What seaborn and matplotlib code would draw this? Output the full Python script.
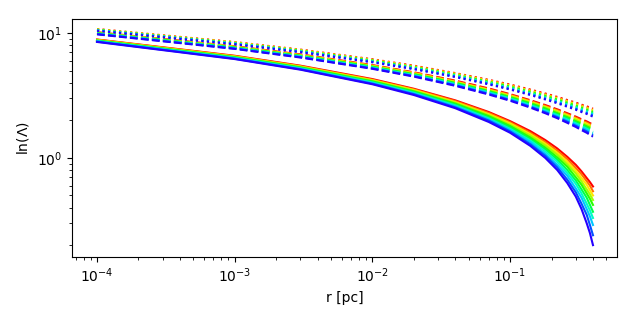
import numpy as np
import pandas as pd
import matplotlib
matplotlib.use('Agg')
import matplotlib.pyplot as plt
import seaborn as sns

# radius sample points [pc]
r_pc = [1e-4, 1e-3, 3e-3, 1e-2, 2e-2, 4e-2, 7e-2, 0.1, 0.14, 0.18,
        0.22, 0.26, 0.3, 0.33, 0.36, 0.38, 0.4]

# ln(Lambda), one row per colour (red -> blue)
solid_vals = [
    [8.88, 6.58, 5.48, 4.28, 3.58, 2.89, 2.33, 1.97, 1.64, 1.39, 1.19, 1.02, 0.88, 0.78, 0.69, 0.64, 0.59],
    [8.84, 6.54, 5.44, 4.23, 3.54, 2.85, 2.29, 1.93, 1.59, 1.34, 1.14, 0.98, 0.83, 0.74, 0.65, 0.60, 0.54],
    [8.80, 6.49, 5.39, 4.19, 3.50, 2.80, 2.24, 1.89, 1.55, 1.30, 1.10, 0.93, 0.79, 0.69, 0.61, 0.55, 0.50],
    [8.75, 6.45, 5.35, 4.15, 3.45, 2.76, 2.20, 1.84, 1.51, 1.26, 1.06, 0.89, 0.75, 0.65, 0.56, 0.51, 0.46],
    [8.71, 6.41, 5.31, 4.10, 3.41, 2.72, 2.16, 1.80, 1.46, 1.21, 1.01, 0.85, 0.70, 0.61, 0.52, 0.47, 0.42],
    [8.67, 6.36, 5.26, 4.06, 3.37, 2.67, 2.11, 1.76, 1.42, 1.17, 0.97, 0.80, 0.66, 0.56, 0.48, 0.42, 0.37],
    [8.62, 6.32, 5.22, 4.02, 3.32, 2.63, 2.07, 1.71, 1.38, 1.13, 0.93, 0.76, 0.62, 0.52, 0.43, 0.38, 0.33],
    [8.58, 6.28, 5.18, 3.97, 3.28, 2.59, 2.03, 1.67, 1.34, 1.08, 0.88, 0.72, 0.57, 0.48, 0.39, 0.34, 0.29],
    [8.54, 6.23, 5.13, 3.93, 3.24, 2.54, 1.99, 1.63, 1.29, 1.04, 0.84, 0.67, 0.53, 0.43, 0.35, 0.29, 0.24],
    [8.49, 6.19, 5.09, 3.89, 3.19, 2.50, 1.94, 1.59, 1.25, 1.00, 0.80, 0.63, 0.49, 0.39, 0.30, 0.25, 0.20],
]
dashed_vals = [
    [10.15, 7.84, 6.75, 5.54, 4.85, 4.16, 3.60, 3.24, 2.90, 2.65, 2.45, 2.28, 2.14, 2.04, 1.96, 1.90, 1.85],
    [10.11, 7.80, 6.70, 5.50, 4.81, 4.11, 3.55, 3.20, 2.86, 2.61, 2.41, 2.24, 2.10, 2.00, 1.92, 1.86, 1.81],
    [10.06, 7.76, 6.66, 5.46, 4.77, 4.07, 3.51, 3.16, 2.82, 2.57, 2.37, 2.20, 2.06, 1.96, 1.88, 1.82, 1.77],
    [10.02, 7.72, 6.62, 5.42, 4.72, 4.03, 3.47, 3.11, 2.78, 2.53, 2.33, 2.16, 2.02, 1.92, 1.83, 1.78, 1.73],
    [9.98, 7.68, 6.58, 5.38, 4.68, 3.99, 3.43, 3.07, 2.74, 2.49, 2.28, 2.12, 1.97, 1.88, 1.79, 1.74, 1.69],
    [9.94, 7.64, 6.54, 5.33, 4.64, 3.95, 3.39, 3.03, 2.70, 2.44, 2.24, 2.08, 1.93, 1.84, 1.75, 1.70, 1.65],
    [9.90, 7.60, 6.50, 5.29, 4.60, 3.91, 3.35, 2.99, 2.65, 2.40, 2.20, 2.03, 1.89, 1.80, 1.71, 1.66, 1.60],
    [9.86, 7.55, 6.46, 5.25, 4.56, 3.87, 3.31, 2.95, 2.61, 2.36, 2.16, 1.99, 1.85, 1.76, 1.67, 1.61, 1.56],
    [9.82, 7.51, 6.41, 5.21, 4.52, 3.82, 3.26, 2.91, 2.57, 2.32, 2.12, 1.95, 1.81, 1.71, 1.63, 1.57, 1.52],
    [9.77, 7.47, 6.37, 5.17, 4.48, 3.78, 3.22, 2.87, 2.53, 2.28, 2.08, 1.91, 1.77, 1.67, 1.59, 1.53, 1.48],
]
dotted_vals = [
    [10.77, 8.47, 7.37, 6.17, 5.48, 4.78, 4.22, 3.87, 3.53, 3.28, 3.08, 2.91, 2.77, 2.67, 2.59, 2.53, 2.48],
    [10.74, 8.43, 7.34, 6.13, 5.44, 4.75, 4.19, 3.83, 3.49, 3.24, 3.04, 2.87, 2.73, 2.64, 2.55, 2.49, 2.44],
    [10.70, 8.40, 7.30, 6.09, 5.40, 4.71, 4.15, 3.79, 3.45, 3.20, 3.00, 2.84, 2.69, 2.60, 2.51, 2.46, 2.41],
    [10.66, 8.36, 7.26, 6.06, 5.36, 4.67, 4.11, 3.75, 3.42, 3.17, 2.97, 2.80, 2.65, 2.56, 2.47, 2.42, 2.37],
    [10.62, 8.32, 7.22, 6.02, 5.33, 4.63, 4.07, 3.72, 3.38, 3.13, 2.93, 2.76, 2.62, 2.52, 2.43, 2.38, 2.33],
    [10.59, 8.28, 7.18, 5.98, 5.29, 4.59, 4.03, 3.68, 3.34, 3.09, 2.89, 2.72, 2.58, 2.48, 2.40, 2.34, 2.29],
    [10.55, 8.25, 7.15, 5.94, 5.25, 4.56, 4.00, 3.64, 3.30, 3.05, 2.85, 2.68, 2.54, 2.45, 2.36, 2.31, 2.25],
    [10.51, 8.21, 7.11, 5.90, 5.21, 4.52, 3.96, 3.60, 3.27, 3.01, 2.81, 2.65, 2.50, 2.41, 2.32, 2.27, 2.22],
    [10.47, 8.17, 7.07, 5.87, 5.17, 4.48, 3.92, 3.56, 3.23, 2.98, 2.78, 2.61, 2.47, 2.37, 2.28, 2.23, 2.18],
    [10.43, 8.13, 7.03, 5.83, 5.14, 4.44, 3.88, 3.53, 3.19, 2.94, 2.74, 2.57, 2.43, 2.33, 2.25, 2.19, 2.14],
]

fig, ax = plt.subplots(figsize=(6.35, 3.19), dpi=100)
fig.subplots_adjust(left=0.1134, right=0.9717, top=0.9404, bottom=0.1944)

n = len(solid_vals)
colors = plt.cm.hsv(np.linspace(0, 0.7, n))

for vals, ls in [(solid_vals, '-'), (dashed_vals, '--'), (dotted_vals, ':')]:
    for i in range(n):
        sns.lineplot(x=r_pc, y=vals[i], color=colors[i], linestyle=ls,
                     linewidth=1.5, ax=ax, sort=False)

ax.set_xscale('log')
ax.set_yscale('log')
ax.set_xlim(6.58e-5, 0.598)
ax.set_ylim(0.1607, 12.96)
ax.set_xlabel('r [pc]')
ax.set_ylabel(r'ln($\Lambda$)')

fig.savefig('out.png', dpi=100)
